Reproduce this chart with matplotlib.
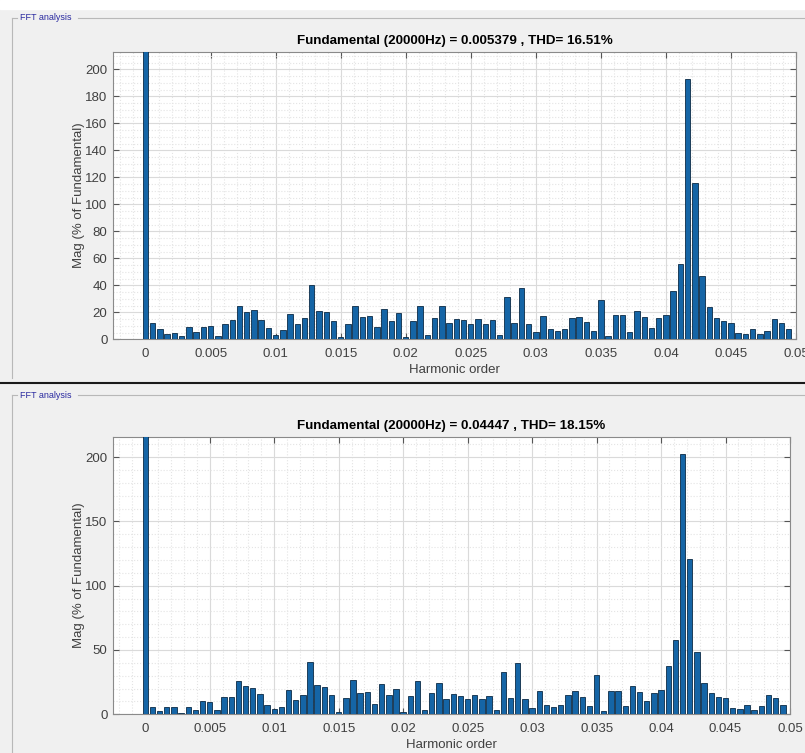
import numpy as np
import matplotlib
matplotlib.use("Agg")
import matplotlib.pyplot as plt
from matplotlib.lines import Line2D
from matplotlib.ticker import MultipleLocator

plt.rcParams['font.family'] = ['Liberation Sans', 'DejaVu Sans']

# bin spacing of the spectrum (harmonic order units)
bin_step = 1 / 1800

# top spectrum, % of fundamental (DC bar clipped by the axes)
top_mag = [300, 11.8, 7.9, 4.2, 4.9, 2.2, 9.1, 5.7, 9.1, 9.8,
           2.2, 11.6, 14.5, 25, 20.4, 21.4, 14.5, 8.4, 3, 7.1,
           19, 11, 15.7, 40, 21.2, 20.4, 13.5, 2, 11.6, 25,
           16.5, 17.2, 8.9, 22.6, 13.5, 19.2, 2, 13.5, 24.6, 3.2,
           16, 24.4, 12.3, 14.8, 14, 11, 14.8, 11.6, 14, 3.2,
           31.2, 12.3, 38, 11.6, 5.7, 17.2, 7.9, 6.2, 7.4, 15.5,
           16.7, 12.8, 6.2, 29, 2.5, 17.7, 17.7, 5.4, 20.9, 16.2,
           8.6, 15.5, 18, 35.7, 55.8, 193, 116, 46.7, 23.9, 15.5,
           13.8, 12, 4.9, 4.2, 7.4, 4.2, 6.2, 15.3, 12, 7.4]

# bottom spectrum
bot_mag = [300, 5.4, 2.6, 6, 6, 1.3, 6, 3.4, 10.4, 9.9,
           3.4, 13.2, 13.2, 26.2, 21.8, 20.2, 15.6, 7.5, 4.4, 5.4,
           19.2, 10.9, 14.8, 40.5, 22.6, 21.3, 14.8, 1.8, 12.7, 27,
           16.9, 17.6, 8.3, 23.3, 14.8, 20, 1.8, 14, 25.7, 3.6,
           16.9, 24.6, 12.2, 15.6, 14, 11.7, 14.8, 11.7, 14, 3.6,
           32.7, 12.7, 39.7, 11.9, 4.9, 17.9, 7.5, 5.7, 7.5, 15.3,
           17.9, 13.5, 6.2, 30.4, 2.6, 18.4, 18.4, 6.2, 21.8, 17.6,
           10.1, 16.3, 19.2, 37.6, 58.1, 202, 121, 48.2, 24.6, 16.3,
           13.2, 12.5, 4.9, 4.2, 7.5, 3.6, 6.2, 15.3, 12.7, 7.5]

top_title = "Fundamental (20000Hz) = 0.005379 , THD= 16.51%"
bot_title = "Fundamental (20000Hz) = 0.04447 , THD= 18.15%"

x_ticks = [0, 0.005, 0.01, 0.015, 0.02, 0.025, 0.03, 0.035, 0.04, 0.045, 0.05]
x_labels = ['0', '0.005', '0.01', '0.015', '0.02', '0.025', '0.03', '0.035', '0.04', '0.045', '0.05']
top_yticks = [0, 20, 40, 60, 80, 100, 120, 140, 160, 180, 200]
bot_yticks = [0, 50, 100, 150, 200]

W, H = 805, 753
BG = '#f0f0f0'
BAR = '#1565a6'
TXT = '#404040'


def px(x0, y0, x1, y1):
    # pixel box (top-left origin) -> figure fraction [l, b, w, h]
    return [x0 / W, 1 - y1 / H, (x1 - x0) / W, (y1 - y0) / H]


def draw_spectrum(ax, mag, title, yticks, ytop, yminor):
    harmonic = np.arange(len(mag)) * bin_step
    ax.set_facecolor('white')
    ax.bar(harmonic, mag, width=bin_step * 0.75, color=BAR,
           edgecolor='#0b2a45', linewidth=0.6, zorder=3)
    ax.set_xlim(-0.0025, 0.05)
    ax.set_ylim(0, ytop)
    ax.set_xticks(x_ticks)
    ax.set_xticklabels(x_labels)
    ax.set_yticks(yticks)
    ax.xaxis.set_minor_locator(MultipleLocator(0.001))
    ax.yaxis.set_minor_locator(MultipleLocator(yminor))
    ax.grid(True, which='major', color='#dadada', linewidth=0.8, zorder=0)
    ax.grid(True, which='minor', color='#e4e4e4', linestyle=':', linewidth=0.8, zorder=0)
    ax.set_axisbelow(True)
    ax.tick_params(which='major', direction='in', length=4, top=True, right=True,
                   labelsize=9.5, colors='#555555', labelcolor=TXT)
    ax.tick_params(axis='y', pad=4)
    ax.tick_params(axis='x', pad=6)
    ax.tick_params(which='minor', length=0)
    for s in ax.spines.values():
        s.set_color('#8a8a8a')
        s.set_linewidth(0.8)
    ax.set_title(title, fontsize=9.6, fontweight='bold', pad=6)
    ax.set_xlabel("Harmonic order", fontsize=9.5, color=TXT, labelpad=3)
    ax.set_ylabel("Mag (% of Fundamental)", fontsize=9.5, color=TXT, labelpad=0)


def panel(fig, y_top, y_bot):
    c = '#b8b8b8'
    fig.add_artist(Line2D([12 / W, 12 / W], [1 - y_top / H, 1 - y_bot / H],
                          color=c, linewidth=0.8))
    fig.add_artist(Line2D([12 / W, 17 / W], [1 - y_top / H, 1 - y_top / H],
                          color=c, linewidth=0.8))
    fig.add_artist(Line2D([78 / W, 1], [1 - y_top / H, 1 - y_top / H],
                          color=c, linewidth=0.8))
    fig.text(20 / W, 1 - y_top / H, "FFT analysis", fontsize=6.5,
             color='#2a2aa0', va='center', ha='left')


def plot_fft():
    fig = plt.figure(figsize=(W / 100, H / 100), dpi=100, facecolor=BG)

    # white strip at very top and dark separator between the two panels
    fig.add_artist(plt.Rectangle((0, 1 - 9 / H), 1, 9 / H, color='white',
                                 transform=fig.transFigure, zorder=-1))
    fig.add_artist(Line2D([0, 1], [1 - 383 / H, 1 - 383 / H], color='#1a1a1a', linewidth=1.5))

    panel(fig, 18, 378)
    panel(fig, 395, 753)

    ax1 = fig.add_axes(px(113, 52, 796, 339.3))
    draw_spectrum(ax1, top_mag, top_title, top_yticks, 212.8, 5)

    ax2 = fig.add_axes(px(113, 437, 790, 714.3))
    draw_spectrum(ax2, bot_mag, bot_title, bot_yticks, 215.6, 10)

    fig.savefig("out.png", dpi=100, facecolor=BG)


if __name__ == "__main__":
    plot_fft()
